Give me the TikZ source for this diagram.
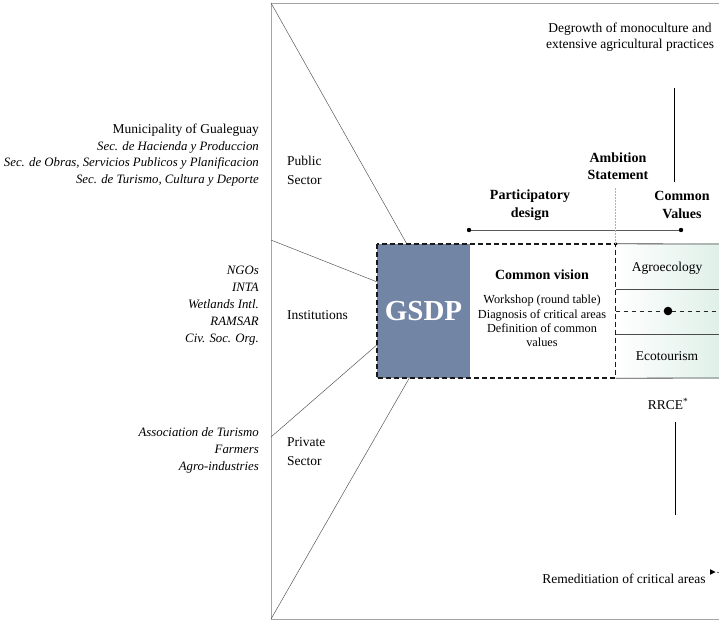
\documentclass[tikz,border=0pt]{standalone}
\usepackage{fontspec}
\setmainfont{Liberation Serif}
\usetikzlibrary{positioning}
\definecolor{gsdpblue}{RGB}{114,133,165}
\definecolor{valuemint}{RGB}{224,240,233}
\definecolor{framegray}{RGB}{165,165,165}
\newcommand{\dotat}[2]{\fill (#1) circle (#2);}

\begin{document}
\begin{tikzpicture}[x=1pt,y=-1pt,
  every node/.style={inner sep=0pt,font=\fontsize{13.5}{16.5}\selectfont},
  frameline/.style={framegray,line width=0.9pt},
  spoke/.style={black!70,line width=0.45pt},
  dashbox/.style={black!90,line width=1.6pt,dash pattern=on 5pt off 3pt},
  boxline/.style={black!70,line width=0.8pt},
  headlbl/.style={font=\fontsize{14}{17.5}\selectfont\bfseries,align=center},
  actorlist/.style={anchor=east,align=right,font=\fontsize{12.8}{16.5}\selectfont\itshape},
  sectorlbl/.style={anchor=west,align=left,font=\fontsize{13.5}{19}\selectfont},
  vline/.style={black,line width=0.9pt}]
  \useasboundingbox (0,0) rectangle (719,622);

  % frame
  \coordinate (ftl) at (271,3);
  \coordinate (fbl) at (271,619);
  \coordinate (fml) at (271,240);
  \coordinate (fll) at (271,437);
  \draw[frameline] (719,3) -- (ftl) -- (fbl) -- (719,619);

  % actors and sectors
  \node[actorlist] (public) at (259,155) {{\fontsize{13.5}{16.5}\selectfont\upshape Municipality of Gualeguay}\\Sec. de Hacienda y Produccion\\Sec. de Obras, Servicios Publicos y Planificacion\\Sec. de Turismo, Cultura y Deporte};
  \node[actorlist,font=\fontsize{12.8}{17}\selectfont\itshape] (institut) at (259,306) {NGOs\\INTA\\Wetlands Intl.\\RAMSAR\\Civ. Soc. Org.};
  \node[actorlist,font=\fontsize{12.8}{17}\selectfont\itshape] (private) at (259,450) {Association de Turismo\\Farmers\\Agro-industries};
  \node[sectorlbl] (pubsec) at (287,170) {Public\\Sector};
  \node[sectorlbl] (instsec) at (287,315) {Institutions};
  \node[sectorlbl] (privsec) at (287,452) {Private\\Sector};

  % central boxes
  \node[fill=gsdpblue,minimum width=93pt,minimum height=134pt,text=white,
    font=\fontsize{29}{29}\selectfont\bfseries] (gsdp) at (423.5,311) {GSDP};
  \node[minimum width=145pt,minimum height=134pt,right=0pt of gsdp] (vision) {};
  \node[headlbl] (cvtitle) at (542,275) {Common vision};
  \node[font=\fontsize{12.3}{14.2}\selectfont,align=center] (tasks) at (542,321)
    {Workshop (round table)\\Diagnosis of critical areas\\Definition of common\\values};

  \draw[spoke] (ftl) -- (gsdp.104);
  \draw[spoke] (fml) -- (gsdp.148);
  \draw[spoke] (fll) -- (gsdp.216);
  \draw[spoke] (fbl) -- (gsdp.258);

  % common values panel
  \coordinate (vtop) at (719,244);
  \coordinate (vsep1) at (719,289);
  \coordinate (vsep2) at (719,334);
  \coordinate (vbot) at (719,378);
  \shade[left color=white,right color=valuemint] (vision.north east) rectangle (vbot);
  \draw[boxline] (vision.north east) -- (vtop);
  \draw[boxline] (vision.east |- vsep1) -- (vsep1);
  \draw[boxline] (vision.east |- vsep2) -- (vsep2);
  \draw[boxline] (vision.south east) -- (vbot);
  \node (agro) at (667,268) {Agroecology};
  \node (eco) at (667,356) {Ecotourism};
  \coordinate (mid) at (668,311);
  \draw[black!85,line width=0.8pt,dash pattern=on 4.5pt off 3.5pt] (vision.east |- mid) -- (719,311);
  \dotat{mid}{4.3}

  \draw[dashbox] (gsdp.north west) rectangle (vision.south east);
  \dotat{vision.north east}{1.9}

  % timeline
  \node[headlbl] (ambition) at (618,166) {Ambition\\Statement};
  \node[headlbl] (partic) at (530,205) {Participatory\\design};
  \node[headlbl] (values) at (682,205) {Common\\Values};
  \coordinate (pstart) at (469,230);
  \coordinate (pend) at (681,230);
  \draw[black!65,line width=1pt] (pstart) -- (pend);
  \dotat{pstart}{2.2}
  \dotat{pend}{2.2}
  \draw[black!30,densely dotted,line width=0.5pt] (ambition.south -| vision.east) ++(0,8) -- (vision.north east);

  % strategies
  \node[align=center] (degrowth) at (630,37) {Degrowth of monoculture and\\extensive agricultural practices};
  \coordinate (up1) at (674,88);
  \coordinate (up2) at (674,182);
  \draw[vline] (up1) -- (up2);
  \node (rrce) at (668,404) {RRCE\textsuperscript{*}};
  \coordinate (dn1) at (675,422);
  \coordinate (dn2) at (675,515);
  \draw[vline] (dn1) -- (dn2);
  \node (remed) at (624,579) {Remeditiation of critical areas};
  \coordinate (tri) at (710,572);
  \fill (tri) ++(0,-2.8) -- ++(5.5,2.8) -- ++(-5.5,2.8) -- cycle;
  \draw[black!60,densely dotted,line width=0.6pt] (tri) ++(6.5,0) -- (719,572);
\end{tikzpicture}
\end{document}
